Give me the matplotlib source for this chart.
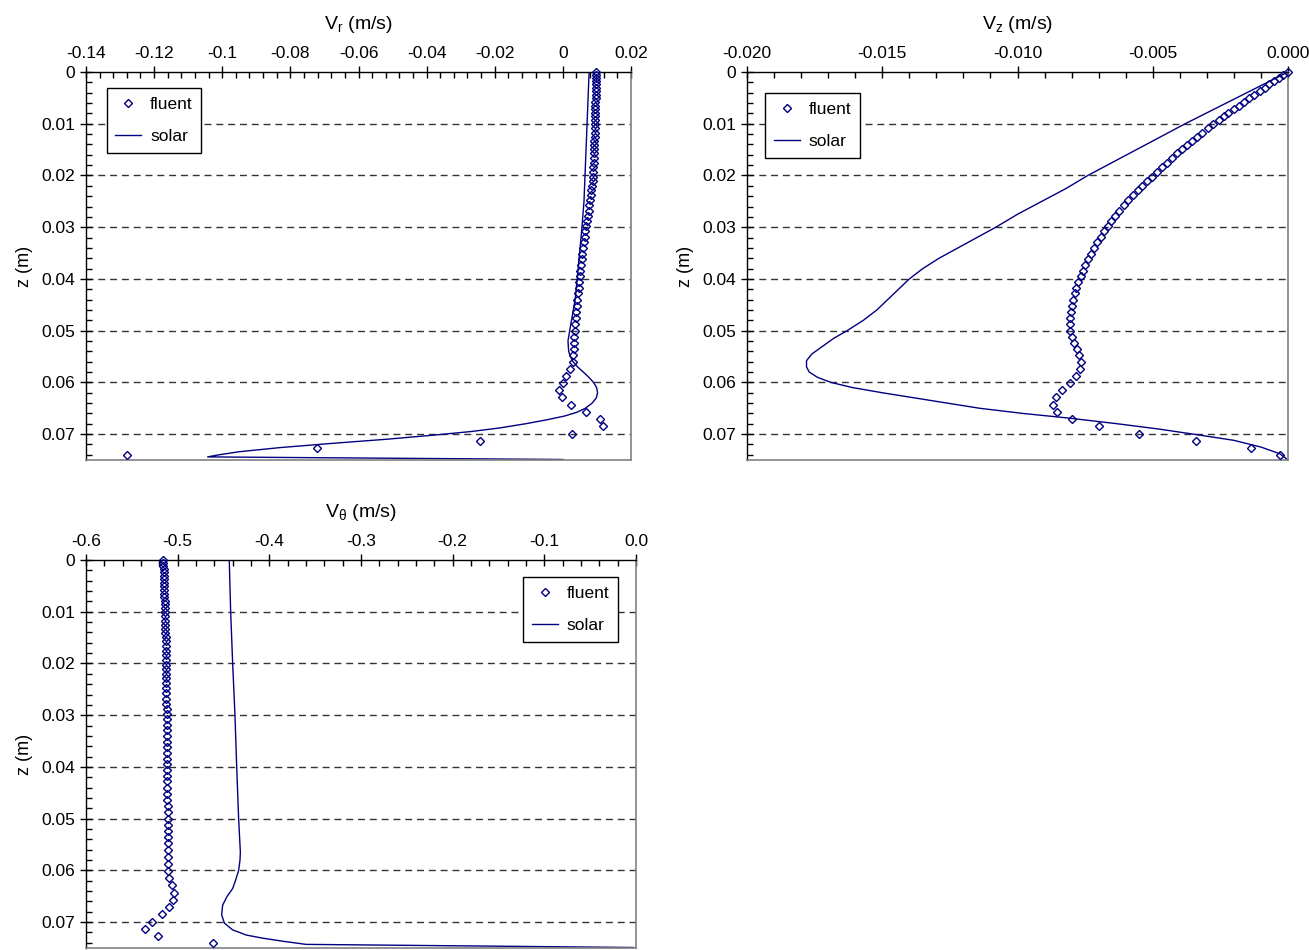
import matplotlib
matplotlib.use("Agg")
import matplotlib.pyplot as plt
from matplotlib.ticker import MultipleLocator, FixedLocator, FuncFormatter

plt.rcParams.update({
    "font.family": ["Liberation Sans", "DejaVu Sans"],
    "font.size": 12,
    "mathtext.fontset": "custom",
    "mathtext.rm": "Liberation Sans",
    "mathtext.it": "Liberation Sans:italic",
})

NAVY = "#000080"

# fluent (CFD) profile, shared z positions
z_fluent = [
    0.0000, 0.0006, 0.0012, 0.0018, 0.0024, 0.0030, 0.0037, 0.0044, 0.0051, 0.0058,
    0.0065, 0.0072, 0.0079, 0.0086, 0.0093, 0.0101, 0.0109, 0.0117, 0.0125, 0.0133,
    0.0141, 0.0149, 0.0157, 0.0166, 0.0175, 0.0184, 0.0193, 0.0202, 0.0211, 0.0220,
    0.0229, 0.0238, 0.0248, 0.0258, 0.0268, 0.0278, 0.0288, 0.0298, 0.0308, 0.0318,
    0.0329, 0.0340, 0.0351, 0.0362, 0.0373, 0.0384, 0.0395, 0.0406, 0.0417, 0.0428,
    0.0440, 0.0452, 0.0464, 0.0476, 0.0488, 0.0500, 0.0512, 0.0524, 0.0536, 0.0548,
    0.0561, 0.0574, 0.0587, 0.0601, 0.0615, 0.0629, 0.0643, 0.0657, 0.0671, 0.0685,
    0.0699, 0.0713, 0.0727, 0.0741,
]
vr_fluent = [
    0.0097, 0.0097, 0.0097, 0.0097, 0.0096, 0.0096, 0.0096, 0.0096, 0.0096, 0.0095,
    0.0095, 0.0095, 0.0095, 0.0094, 0.0094, 0.0094, 0.0093, 0.0093, 0.0093, 0.0092,
    0.0092, 0.0092, 0.0091, 0.0091, 0.0090, 0.0089, 0.0089, 0.0088, 0.0087, 0.0085,
    0.0084, 0.0082, 0.0080, 0.0078, 0.0076, 0.0073, 0.0071, 0.0068, 0.0066, 0.0064,
    0.0061, 0.0059, 0.0057, 0.0055, 0.0053, 0.0051, 0.0049, 0.0047, 0.0046, 0.0044,
    0.0042, 0.0041, 0.0039, 0.0038, 0.0036, 0.0035, 0.0034, 0.0033, 0.0032, 0.0031,
    0.0029, 0.0020, 0.0009, -0.0001, -0.0011, -0.0004, 0.0025, 0.0068, 0.0110, 0.0118,
    0.0028, -0.0243, -0.0722, -0.1280,
]
vz_fluent = [
    0.0, -0.00018, -0.00035, -0.00052, -0.00069, -0.00086, -0.00105, -0.00125, -0.00144, -0.00163,
    -0.00182, -0.00201, -0.00220, -0.00238, -0.00256, -0.00277, -0.00297, -0.00317, -0.00336, -0.00355,
    -0.00374, -0.00392, -0.00410, -0.00429, -0.00448, -0.00467, -0.00486, -0.00504, -0.00521, -0.00538,
    -0.00555, -0.00572, -0.00590, -0.00607, -0.00623, -0.00638, -0.00653, -0.00667, -0.00680, -0.00693,
    -0.00706, -0.00718, -0.00729, -0.00740, -0.00750, -0.00759, -0.00767, -0.00775, -0.00782, -0.00789,
    -0.00795, -0.00800, -0.00804, -0.00806, -0.00807, -0.00805, -0.00800, -0.00792, -0.00781, -0.00771,
    -0.00764, -0.00768, -0.00782, -0.00806, -0.00835, -0.00856, -0.00868, -0.00855, -0.00800, -0.00700,
    -0.00550, -0.00340, -0.00135, -0.00030,
]
vt_fluent = [
    -0.5157, -0.5156, -0.5155, -0.5154, -0.5153, -0.5152, -0.5151, -0.5150, -0.5148, -0.5147,
    -0.5146, -0.5145, -0.5143, -0.5142, -0.5140, -0.5138, -0.5137, -0.5136, -0.5135, -0.5134,
    -0.5133, -0.5132, -0.5131, -0.5130, -0.5129, -0.5128, -0.5128, -0.5127, -0.5126, -0.5126,
    -0.5125, -0.5124, -0.5124, -0.5123, -0.5122, -0.5122, -0.5121, -0.5120, -0.5120, -0.5119,
    -0.5118, -0.5118, -0.5117, -0.5116, -0.5115, -0.5115, -0.5114, -0.5113, -0.5113, -0.5112,
    -0.5112, -0.5111, -0.5111, -0.5110, -0.5110, -0.5110, -0.5109, -0.5108, -0.5107, -0.5106,
    -0.5105, -0.5104, -0.5103, -0.5100, -0.5091, -0.5065, -0.5040, -0.5047, -0.5091, -0.5175,
    -0.5284, -0.5357, -0.5212, -0.4619,
]

# solar model curves
z_solar_r = [0.000, 0.005, 0.010, 0.015, 0.020, 0.025, 0.030, 0.035, 0.040, 0.044,
             0.047, 0.050, 0.052, 0.054, 0.055, 0.056, 0.057, 0.058, 0.059, 0.060,
             0.061, 0.062, 0.063, 0.064, 0.065, 0.0658, 0.0665, 0.0672, 0.0680, 0.0688,
             0.0695, 0.0702, 0.0710, 0.0718, 0.0726, 0.0734, 0.0740, 0.0744, 0.0749]
vr_solar = [0.0077, 0.0074, 0.0071, 0.0068, 0.0065, 0.0062, 0.0056, 0.0049, 0.0042, 0.0036,
            0.0028, 0.0020, 0.0015, 0.0017, 0.0022, 0.0030, 0.0043, 0.0060, 0.0076, 0.0090,
            0.0099, 0.0102, 0.0098, 0.0086, 0.0066, 0.0040, 0.0005, -0.0045, -0.0110, -0.0185,
            -0.0270, -0.0380, -0.0520, -0.0680, -0.0830, -0.0950, -0.1010, -0.1043, 0.0000]

z_solar_z = [0.000, 0.005, 0.010, 0.015, 0.020, 0.0225, 0.025, 0.0275, 0.030, 0.032,
             0.034, 0.036, 0.038, 0.040, 0.042, 0.044, 0.046, 0.048, 0.050, 0.0515,
             0.053, 0.0545, 0.0558, 0.057, 0.058, 0.059, 0.060, 0.061, 0.062, 0.0635,
             0.065, 0.066, 0.0669, 0.068, 0.069, 0.070, 0.0712, 0.0725, 0.0738, 0.0750]
vz_solar = [0.0000, -0.0019, -0.0038, -0.0056, -0.0074, -0.0082, -0.0091, -0.0100, -0.0108, -0.0115,
            -0.0122, -0.0129, -0.0135, -0.0140, -0.0144, -0.0148, -0.0152, -0.0157, -0.0163, -0.0168,
            -0.0172, -0.0176, -0.0178, -0.0178, -0.0177, -0.0174, -0.0169, -0.0161, -0.0150, -0.0132,
            -0.0114, -0.0098, -0.0081, -0.0063, -0.0048, -0.0035, -0.0020, -0.0010, -0.0003, 0.0000]

z_solar_t = [0.000, 0.010, 0.020, 0.030, 0.040, 0.050, 0.0565, 0.058, 0.060, 0.062,
             0.0635, 0.065, 0.0667, 0.0686, 0.0702, 0.0715, 0.0725, 0.0731, 0.0737, 0.0743,
             0.0749]
vt_solar = [-0.4437, -0.4422, -0.4400, -0.4375, -0.4356, -0.4335, -0.4316, -0.4320, -0.4335, -0.4370,
            -0.4400, -0.4460, -0.4509, -0.4520, -0.4490, -0.4400, -0.4250, -0.4073, -0.3850, -0.3600,
            -0.0030]

z_ticks = [0.00, 0.01, 0.02, 0.03, 0.04, 0.05, 0.06, 0.07]


def setup_axes(ax, xlim, xmajor, xminor, fmt, xlabel):
    ax.set_xlim(*xlim)
    ax.set_ylim(0.075, 0.0)
    ax.xaxis.tick_top()
    ax.xaxis.set_label_position("top")
    ax.xaxis.set_major_locator(MultipleLocator(xmajor))
    ax.xaxis.set_minor_locator(MultipleLocator(xminor))
    ax.xaxis.set_major_formatter(FuncFormatter(fmt))
    ax.yaxis.set_major_locator(FixedLocator(z_ticks))
    ax.yaxis.set_minor_locator(MultipleLocator(0.002))
    ax.yaxis.set_major_formatter(FuncFormatter(lambda v, _: f"{round(v, 3):g}"))
    ax.tick_params(which="major", direction="inout", length=8, width=1, pad=4,
                   labelsize=12.5, top=True, bottom=False, left=True, right=False)
    ax.tick_params(which="minor", direction="in", length=4, width=1,
                   top=True, bottom=False, left=True, right=False)
    ax.set_xlabel(xlabel, fontsize=14, labelpad=12.5)
    ax.set_ylabel("z (m)", fontsize=13, labelpad=6)
    for z in z_ticks[1:]:
        ax.axhline(z, color="#333333", lw=1.0, ls=(0, (5, 3.5)), zorder=1)
    for side in ("top", "left"):
        ax.spines[side].set_color("black")
        ax.spines[side].set_linewidth(1.0)
    for side in ("right", "bottom"):
        ax.spines[side].set_color("#808080")
        ax.spines[side].set_linewidth(1.2)


def draw(ax, vf, vs, zs):
    ax.plot(vf, z_fluent, ls="none", marker="D", ms=4.3, mfc="none", mec=NAVY,
            mew=1.0, label="fluent", zorder=3, clip_on=False)
    ax.plot(vs, zs, color=NAVY, lw=1.0, label="solar", zorder=2)


def add_legend(ax, anchor):
    leg = ax.legend(loc="upper left", bbox_to_anchor=anchor, borderaxespad=0, fancybox=False,
                    frameon=True, edgecolor="black", framealpha=1, fontsize=12.5,
                    handlelength=1.5, handletextpad=0.5, labelspacing=0.98,
                    borderpad=0.5, numpoints=1)
    leg.get_frame().set_linewidth(1.0)


fig = plt.figure(figsize=(13.09, 9.5), dpi=100)

ax1 = fig.add_axes([86 / 1309, 1 - 460 / 950, 545 / 1309, 388 / 950])
setup_axes(ax1, (-0.14, 0.02), 0.02, 0.004, lambda v, _: f"{round(v, 3):g}",
           r"V$_\mathregular{r}$ (m/s)")
draw(ax1, vr_fluent, vr_solar, z_solar_r)
add_legend(ax1, (0.038, 0.959))

ax2 = fig.add_axes([747 / 1309, 1 - 460 / 950, 541 / 1309, 388 / 950])
setup_axes(ax2, (-0.02, 0.0), 0.005, 0.001, lambda v, _: f"{abs(v) if abs(v) < 1e-9 else v:.3f}",
           r"V$_\mathregular{z}$ (m/s)")
draw(ax2, vz_fluent, vz_solar, z_solar_z)
add_legend(ax2, (0.033, 0.946))

ax3 = fig.add_axes([86 / 1309, 1 - 948 / 950, 550 / 1309, 388 / 950])
setup_axes(ax3, (-0.6, 0.0), 0.1, 0.02, lambda v, _: f"{abs(v) if abs(v) < 1e-9 else v:.1f}",
           r"V$_\mathregular{θ}$ (m/s)")
draw(ax3, vt_fluent, vt_solar, z_solar_t)
add_legend(ax3, (0.795, 0.956))

fig.savefig("out.png", dpi=100)
